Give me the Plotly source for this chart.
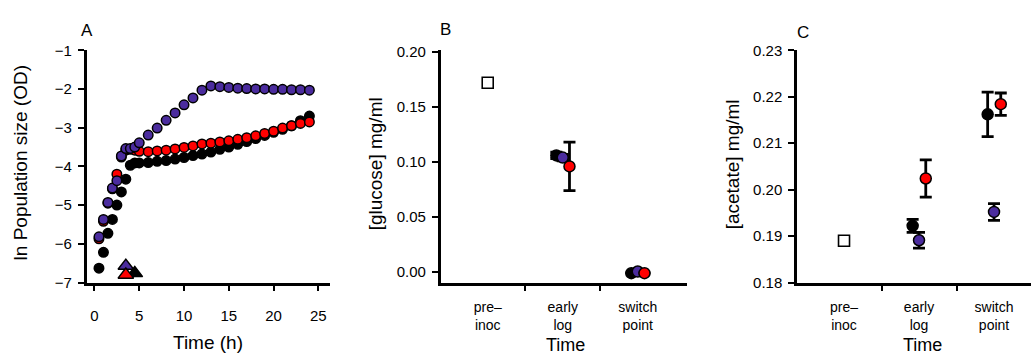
import plotly.graph_objects as go

# ---------------- Panel A data ----------------
time_h = [0.5, 1, 1.5, 2, 2.5, 3, 3.5, 4, 4.5, 5,
          6, 7, 8, 9, 10, 11, 12, 13, 14, 15, 16, 17, 18, 19, 20, 21, 22, 23, 24]
od_black = [-6.63, -6.22, -5.73, -5.37, -5.00, -4.66, -4.33, -3.97, -3.91, -3.91,
            -3.90, -3.87, -3.85, -3.81, -3.77, -3.72, -3.68, -3.63, -3.56, -3.50,
            -3.43, -3.36, -3.28, -3.20, -3.12, -3.04, -2.95, -2.82, -2.70]
od_red = [-5.87, -5.42, -4.95, -4.58, -4.20, -3.76, -3.58, -3.56, -3.58, -3.61,
          -3.62, -3.60, -3.58, -3.55, -3.51, -3.47, -3.42, -3.40, -3.37, -3.34,
          -3.30, -3.26, -3.21, -3.15, -3.09, -3.01, -2.95, -2.89, -2.85]
od_blue = [-5.82, -5.37, -4.93, -4.56, -4.37, -3.73, -3.54, -3.54, -3.50, -3.39,
           -3.19, -3.01, -2.81, -2.62, -2.41, -2.23, -2.03, -1.92, -1.94, -1.96,
           -1.98, -1.99, -2.00, -2.00, -2.01, -2.01, -2.02, -2.02, -2.03]
switch_black = (4.5, -6.76)
switch_blue = (3.5, -6.57)
switch_red = (3.5, -6.80)
a_xticks = [0, 5, 10, 15, 20, 25]
a_yticks = [-7, -6, -5, -4, -3, -2, -1]

# ---------------- Panels B & C data ----------------
categories = ["pre–<br>inoc", "early<br>log", "switch<br>point"]
cat_pos = [1, 2, 3]
cat_boundaries = [1.5, 2.5]
offset_black, offset_blue, offset_red = -0.085, 0.0, 0.09

preinoc_glucose = 0.172
glucose_black = [0.106, -0.001]
glucose_black_err = [0.003, 0.0]
glucose_blue = [0.104, 0.0005]
glucose_blue_err = [0.003, 0.0]
glucose_red = [0.096, -0.001]
glucose_red_err = [0.022, 0.0]
b_yticks = [0.00, 0.05, 0.10, 0.15, 0.20]

preinoc_acetate = 0.189
acetate_black = [0.1922, 0.2162]
acetate_black_err = [0.0014, 0.0048]
acetate_blue = [0.1891, 0.1952]
acetate_blue_err = [0.0017, 0.0018]
acetate_red = [0.2024, 0.2184]
acetate_red_err = [0.0040, 0.0024]
c_yticks = [0.18, 0.19, 0.20, 0.21, 0.22, 0.23]

BLACK = "#000000"
BLUE = "#4B2C9E"
RED = "#FF0000"
FONT = "Liberation Sans, Arial, sans-serif"

fig = go.Figure()

# Panel A circles: black, red, blue
for ys, col in [(od_black, BLACK), (od_red, RED), (od_blue, BLUE)]:
    fig.add_trace(go.Scatter(x=time_h, y=ys, mode="markers",
                             marker=dict(size=9.5, color=col, line=dict(color=BLACK, width=1.5)),
                             xaxis="x", yaxis="y", showlegend=False))
# Panel A triangles
for pt, col in [(switch_black, BLACK), (switch_blue, BLUE), (switch_red, RED)]:
    fig.add_trace(go.Scatter(x=[pt[0]], y=[pt[1]], mode="markers",
                             marker=dict(symbol="triangle-up", size=13.5, color=col,
                                         line=dict(color=BLACK, width=1.5)),
                             xaxis="x", yaxis="y", showlegend=False))

def add_cat_panel(xa, ya, pre_val, blk, blk_e, blu, blu_e, rd, rd_e):
    fig.add_trace(go.Scatter(x=[cat_pos[0]], y=[pre_val], mode="markers",
                             marker=dict(symbol="square", size=11, color="white",
                                         line=dict(color=BLACK, width=1.6)),
                             xaxis=xa, yaxis=ya, showlegend=False))
    for vals, errs, col, off in [(blk, blk_e, BLACK, offset_black),
                                 (blu, blu_e, BLUE, offset_blue),
                                 (rd, rd_e, RED, offset_red)]:
        fig.add_trace(go.Scatter(x=[p + off for p in cat_pos[1:]], y=vals, mode="markers",
                                 marker=dict(size=11, color=col, line=dict(color=BLACK, width=1.5)),
                                 error_y=dict(type="data", array=errs, visible=True,
                                              color=BLACK, thickness=2.8, width=6),
                                 xaxis=xa, yaxis=ya, showlegend=False))

add_cat_panel("x2", "y2", preinoc_glucose, glucose_black, glucose_black_err,
              glucose_blue, glucose_blue_err, glucose_red, glucose_red_err)
add_cat_panel("x3", "y3", preinoc_acetate, acetate_black, acetate_black_err,
              acetate_blue, acetate_blue_err, acetate_red, acetate_red_err)

W, H = 1031, 362
ydom = [1 - 287 / H, 1 - 43.3 / H]

common = dict(showline=True, linecolor=BLACK, linewidth=2.5, showgrid=False, zeroline=False,
              ticks="outside", ticklen=6, tickwidth=2, tickcolor=BLACK,
              tickfont=dict(family=FONT, size=15, color=BLACK))

cat_x = dict(common)
cat_x.update(tickmode="array", tickvals=cat_pos, ticktext=categories, ticklen=0,
             tickfont=dict(family=FONT, size=14, color=BLACK), ticklabelstandoff=10,
             minor=dict(tickmode="array", tickvals=cat_boundaries, ticks="outside",
                        ticklen=6, tickwidth=2, tickcolor=BLACK, showgrid=False))

fig.update_layout(
    width=W, height=H, margin=dict(l=0, r=0, t=0, b=0),
    paper_bgcolor="white", plot_bgcolor="white",
    font=dict(family=FONT, color=BLACK),
    xaxis=dict(common, domain=[86.7 / W, 330 / W], range=[-0.87, 26.3],
               tickmode="array", tickvals=a_xticks, anchor="y", ticklabelstandoff=12),
    yaxis=dict(common, domain=ydom, range=[-7, -1], tickmode="array", tickvals=a_yticks,
               anchor="x", ticklabelstandoff=3),
    xaxis2=dict(cat_x, domain=[440.7 / W, 687 / W], range=[0.373, 3.657], anchor="y2"),
    yaxis2=dict(common, domain=ydom, range=[-0.0095, 0.2015], tickmode="array",
                tickvals=b_yticks, tickformat=".2f", anchor="x2", ticklabelstandoff=3),
    xaxis3=dict(cat_x, domain=[797 / W, 1.0], range=[0.373, 3.493], anchor="y3"),
    yaxis3=dict(common, domain=ydom, range=[0.18, 0.23], tickmode="array",
                tickvals=c_yticks, tickformat=".2f", anchor="x3", ticklabelstandoff=3),
)

def ann(text, x, y, size, angle=0):
    fig.add_annotation(text=text, x=x / W, y=1 - y / H, xref="paper", yref="paper",
                       showarrow=False, textangle=angle, xanchor="center", yanchor="middle",
                       font=dict(family=FONT, size=size, color=BLACK))

ann("A", 87, 23, 17)
ann("B", 445, 22, 17)
ann("C", 803, 25, 17)
ann("ln Population size (OD)", 20, 162, 19, -90)
ann("[glucose] mg/ml", 375, 163, 19, -90)
ann("[acetate] mg/ml", 732, 163, 19, -90)
ann("Time (h)", 208, 350, 19)
ann("Time", 565, 353, 18)
ann("Time", 922, 353, 18)

fig.write_html("out.html")
